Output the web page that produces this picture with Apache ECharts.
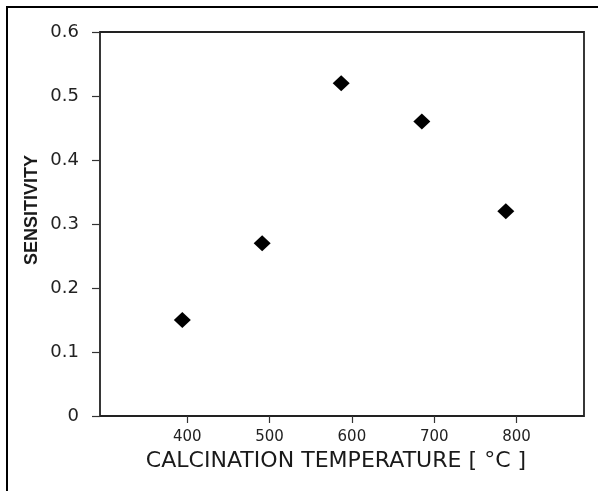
<!DOCTYPE html>
<html>
<head>
<meta charset="utf-8">
<script src="https://cdn.jsdelivr.net/npm/echarts@6/dist/echarts.min.js"></script>
<style>
html,body{margin:0;padding:0;background:#fff;}
#chart{width:598px;height:491px;}
</style>
</head>
<body>
<div id="chart"></div>
<script>
// Data
var temperatures = [394, 491, 587, 685, 787];
var sensitivity = [0.15, 0.27, 0.52, 0.46, 0.32];
var xTicks = [400, 500, 600, 700, 800];
var xTitle = 'CALCINATION TEMPERATURE [ \u00B0C ]';
var yTitle = 'SENSITIVITY';

var points = temperatures.map(function (t, i) { return [t, sensitivity[i]]; });

var chart = echarts.init(document.getElementById('chart'), null, {renderer: 'canvas'});
chart.setOption({
  backgroundColor: '#ffffff',
  animation: false,
  grid: {
    left: 100, top: 32, width: 484, height: 384,
    show: true, borderColor: '#222', borderWidth: 1.8, backgroundColor: 'transparent'
  },
  xAxis: {
    type: 'value',
    min: 294, max: 882,
    offset: 4,
    axisLine: {show: false},
    splitLine: {show: false},
    axisTick: {show: true, inside: false, length: 7, customValues: xTicks,
      lineStyle: {color: '#333', width: 1.2}},
    axisLabel: {customValues: xTicks, margin: 10, color: '#222',
      fontFamily: 'DejaVu Sans', fontSize: 15}
  },
  yAxis: {
    type: 'value',
    min: 0, max: 0.6, interval: 0.1,
    axisLine: {show: false},
    splitLine: {show: false},
    axisTick: {show: true, inside: false, length: 8, lineStyle: {color: '#333', width: 1.2}},
    axisLabel: {margin: 21, color: '#222', fontFamily: 'DejaVu Sans', fontSize: 18}
  },
  series: [{
    type: 'scatter',
    data: points,
    symbol: 'diamond',
    symbolSize: [17, 16],
    itemStyle: {color: '#000', opacity: 1}
  }],
  graphic: [
    {type: 'line', shape: {x1: 7, y1: 6, x2: 7, y2: 491}, style: {stroke: '#000', lineWidth: 2}},
    {type: 'line', shape: {x1: 6, y1: 7, x2: 598, y2: 7}, style: {stroke: '#000', lineWidth: 2}},
    {type: 'text', x: 32, y: 210, rotation: Math.PI / 2,
      style: {text: yTitle, fill: '#1a1a1a', font: 'bold 18px "Liberation Sans"',
        textAlign: 'center', textVerticalAlign: 'middle'}},
    {type: 'text', x: 336, y: 462, scaleX: 1.05,
      style: {text: xTitle, fill: '#1a1a1a', font: '21px "DejaVu Sans"',
        textAlign: 'center', textVerticalAlign: 'middle'}}
  ]
});
</script>
</body>
</html>
